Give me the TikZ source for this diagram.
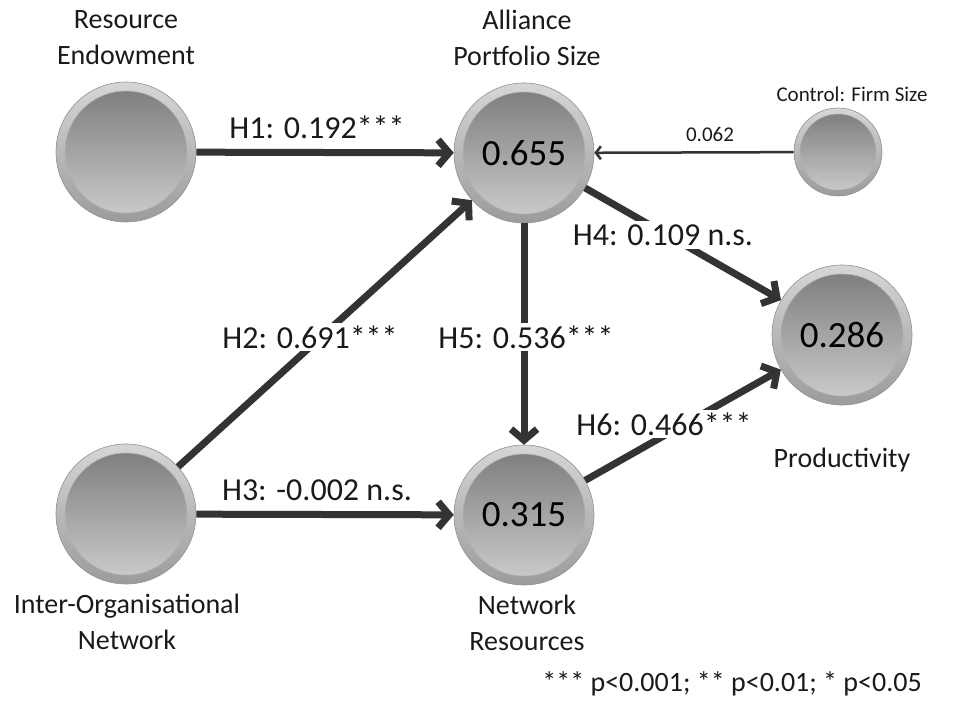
\documentclass[tikz,border=0pt]{standalone}
\usepackage{fontspec}
\setmainfont{Carlito}
\usetikzlibrary{arrows.meta}
\definecolor{arrowc}{HTML}{333333}
\definecolor{txt}{HTML}{1A1A1A}
\definecolor{intop}{RGB}{122,122,122}
\definecolor{inbot}{RGB}{206,206,206}
\definecolor{ringtop}{RGB}{214,214,214}
\definecolor{ringbot}{RGB}{155,155,155}
\definecolor{ringedge}{RGB}{145,145,145}
\begin{document}
\begin{tikzpicture}[x=1pt,y=-1pt,
  lvbig/.style={circle, minimum size=140pt, inner sep=0pt, draw=ringedge, line width=0.6pt,
    top color=ringtop, bottom color=ringbot, text=black,
    font=\fontsize{37}{44}\selectfont,
    path picture={\shade[top color=intop, bottom color=inbot] (path picture bounding box.center) circle (61pt);
      \draw[ringedge!70, line width=0.6pt] (path picture bounding box.center) circle (61pt);}},
  lvsmall/.style={circle, minimum size=88pt, inner sep=0pt, draw=ringedge, line width=0.6pt,
    top color=ringtop, bottom color=ringbot,
    path picture={\shade[top color=intop, bottom color=inbot] (path picture bounding box.center) circle (38pt);
      \draw[ringedge!70, line width=0.5pt] (path picture bounding box.center) circle (38pt);}},
  lvname/.style={text=txt, font=\fontsize{28}{36}\selectfont, align=center, inner sep=0pt},
  hlab/.style={text=txt, font=\fontsize{32}{38}\selectfont, inner sep=2pt},
  hlabw/.style={hlab, fill=white, inner sep=3pt},
  thick arrow/.style={draw=arrowc, line width=7pt, -{Straight Barb[length=11pt,width=26pt]}},
  thin arrow/.style={draw=arrowc, line width=2.5pt, -{Straight Barb[length=5pt,width=13pt]}}
]
\useasboundingbox (0,0) rectangle (976,706);

% latent variables
\node[lvbig] (re) at (126,152) {};
\node[lvbig] (aps) at (524,153) {0.655};
\node[lvsmall] (cfs) at (838,152) {};
\node[lvbig] (prod) at (842,335) {0.286};
\node[lvbig] (io) at (126,514) {};
\node[lvbig] (nr) at (524,515) {0.315};

% names
\node[lvname] (reN) at (126,38) {Resource\\Endowment};
\node[lvname] (apsN) at (527,38) {Alliance\\Portfolio Size};
\node[lvname, font=\fontsize{21}{26}\selectfont] (cfsN) at (852,94) {Control: Firm Size};
\node[lvname] (prodN) at (842,460) {Productivity};
\node[lvname] (ioN) at (127,622) {Inter-Organisational\\Network};
\node[lvname] (nrN) at (527,623) {Network\\Resources};

% paths
\draw[thick arrow] (re) -- (aps);
\draw[thin arrow] (cfs) -- (aps);
\draw[thick arrow] (aps) -- (prod);
\draw[thick arrow] (aps) -- (nr);
\draw[thick arrow] (io) -- (aps);
\draw[thick arrow] (io) -- (nr);
\draw[thick arrow] (nr) -- (prod);

% path labels
\node[hlab] (h1) at (317,127) {H1: 0.192***};
\node[hlab, font=\fontsize{21}{26}\selectfont] (c1) at (710,134) {0.062};
\node[hlabw] (h4) at (663,235) {H4: 0.109 n.s.};
\node[hlabw] (h5) at (526,337) {H5: 0.536***};
\node[hlabw] (h2) at (310,337) {H2: 0.691***};
\node[hlab] (h3) at (317,490) {H3: -0.002 n.s.};
\node[hlabw] (h6) at (664,424) {H6: 0.466***};

% footnote
\node[lvname, anchor=east] (note) at (922,684) {*** p<0.001; ** p<0.01; * p<0.05};
\end{tikzpicture}
\end{document}
